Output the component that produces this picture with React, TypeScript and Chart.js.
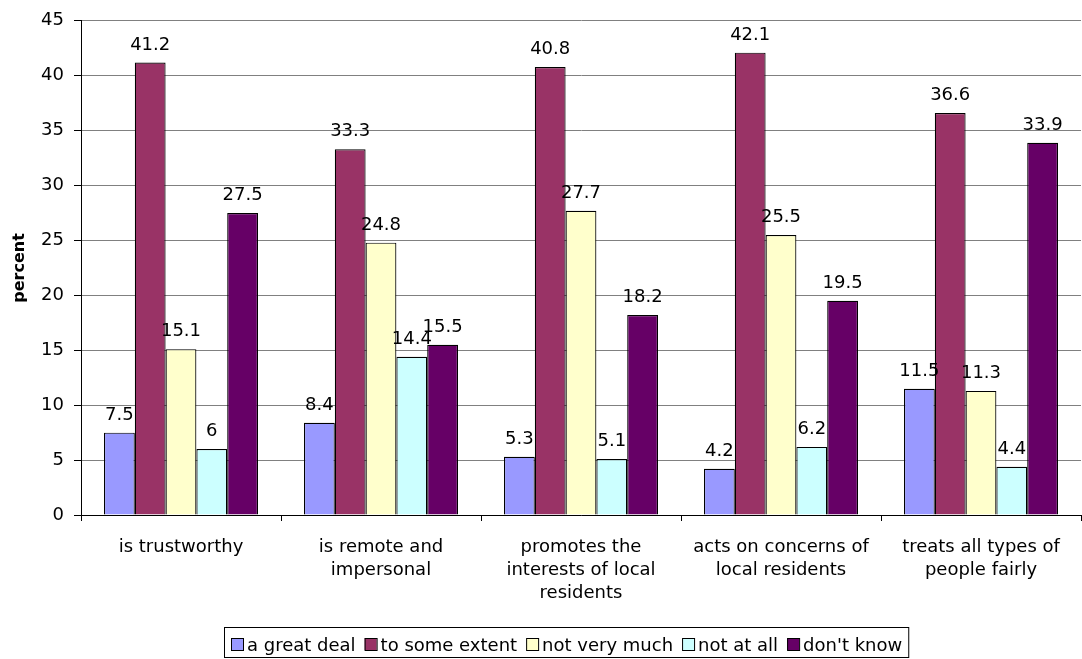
import React, { useEffect, useRef } from "react";
import { Chart, registerables } from "chart.js";
Chart.register(...registerables);

const categories: string[][] = [
  ["is trustworthy"],
  ["is remote and", "impersonal"],
  ["promotes the", "interests of local", "residents"],
  ["acts on concerns of", "local residents"],
  ["treats all types of", "people fairly"],
];
const seriesNames = ["a great deal", "to some extent", "not very much", "not at all", "don't know"];
const aGreatDeal = [7.5, 8.4, 5.3, 4.2, 11.5];
const toSomeExtent = [41.2, 33.3, 40.8, 42.1, 36.6];
const notVeryMuch = [15.1, 24.8, 27.7, 25.5, 11.3];
const notAtAll = [6, 14.4, 5.1, 6.2, 4.4];
const dontKnow = [27.5, 15.5, 18.2, 19.5, 33.9];
const seriesColors = ["#9999FF", "#993366", "#FFFFCC", "#CCFFFF", "#660066"];
const yMax = 45;
const yStep = 5;
const yTitle = "percent";

const FONT = '"DejaVu Sans", sans-serif';

const labelsAndLegend = {
  id: "labelsAndLegend",
  afterDraw(chart: any) {
    const ctx = chart.ctx;
    ctx.save();
    ctx.font = `18px ${FONT}`;
    ctx.fillStyle = "#000";
    ctx.textAlign = "center";
    ctx.textBaseline = "alphabetic";
    chart.data.datasets.forEach((ds: any, di: number) => {
      const meta = chart.getDatasetMeta(di);
      meta.data.forEach((bar: any, i: number) => {
        ctx.fillText(String(ds.data[i]), bar.x, bar.y - 13);
      });
    });
    // legend
    const boxLeft = 224;
    const boxTop = 627;
    const boxH = 30;
    const sw = 12;
    const gap = 9;
    let x = boxLeft + 7;
    const items: { x: number; name: string; color: string }[] = [];
    chart.data.datasets.forEach((ds: any) => {
      items.push({ x, name: ds.label, color: ds.backgroundColor });
      x += sw + 4 + ctx.measureText(ds.label).width + gap;
    });
    const boxRight = x - gap + 6;
    ctx.fillStyle = "#fff";
    ctx.fillRect(boxLeft, boxTop, boxRight - boxLeft, boxH);
    ctx.strokeStyle = "#000";
    ctx.lineWidth = 1;
    ctx.strokeRect(boxLeft + 0.5, boxTop + 0.5, boxRight - boxLeft, boxH);
    ctx.textAlign = "left";
    items.forEach((it) => {
      ctx.fillStyle = it.color;
      ctx.fillRect(it.x, 638, sw, sw);
      ctx.strokeRect(it.x + 0.5, 638.5, sw, sw);
      ctx.fillStyle = "#000";
      ctx.fillText(it.name, it.x + sw + 4, 651);
    });
    ctx.restore();
  },
};

export default function App() {
  const ref = useRef<HTMLCanvasElement>(null);
  useEffect(() => {
    if (!ref.current) return;
    const allSeries = [aGreatDeal, toSomeExtent, notVeryMuch, notAtAll, dontKnow];
    const chart = new Chart(ref.current, {
      type: "bar",
      data: {
        labels: categories,
        datasets: allSeries.map((d, i) => ({
          label: seriesNames[i],
          data: d,
          backgroundColor: seriesColors[i],
          borderColor: "#000",
          borderWidth: 1.2,
          categoryPercentage: 0.77,
          barPercentage: 1,
        })),
      },
      options: {
        animation: false,
        responsive: true,
        maintainAspectRatio: false,
        layout: { padding: { top: 17, right: 1, left: 0, bottom: 0 } },
        plugins: { legend: { display: false }, tooltip: { enabled: false } },
        scales: {
          x: {
            afterFit: (s: any) => {
              s.height = 144;
            },
            grid: { offset: true, drawOnChartArea: false, drawTicks: true, tickLength: 6, color: "#000" },
            border: { color: "#000" },
            ticks: {
              color: "#000",
              font: { family: FONT, size: 18, lineHeight: 1.28 },
              padding: 15,
              maxRotation: 0,
              autoSkip: false,
            },
          },
          y: {
            min: 0,
            max: yMax,
            afterFit: (s: any) => {
              s.width = 81;
            },
            ticks: { stepSize: yStep, color: "#000", font: { family: FONT, size: 18 }, padding: 10 },
            grid: { color: "#808080", tickColor: "#000", tickLength: 7 },
            border: { color: "#000" },
            title: {
              display: true,
              text: yTitle,
              color: "#000",
              font: { family: FONT, size: 16, weight: "bold" },
              padding: { top: 10, bottom: 4 },
            },
          },
        },
      },
      plugins: [labelsAndLegend],
    });
    return () => chart.destroy();
  }, []);
  return (
    <div style={{ position: "absolute", left: 0, top: 0, width: 1082, height: 659, background: "#fff" }}>
      <canvas ref={ref} />
    </div>
  );
}
